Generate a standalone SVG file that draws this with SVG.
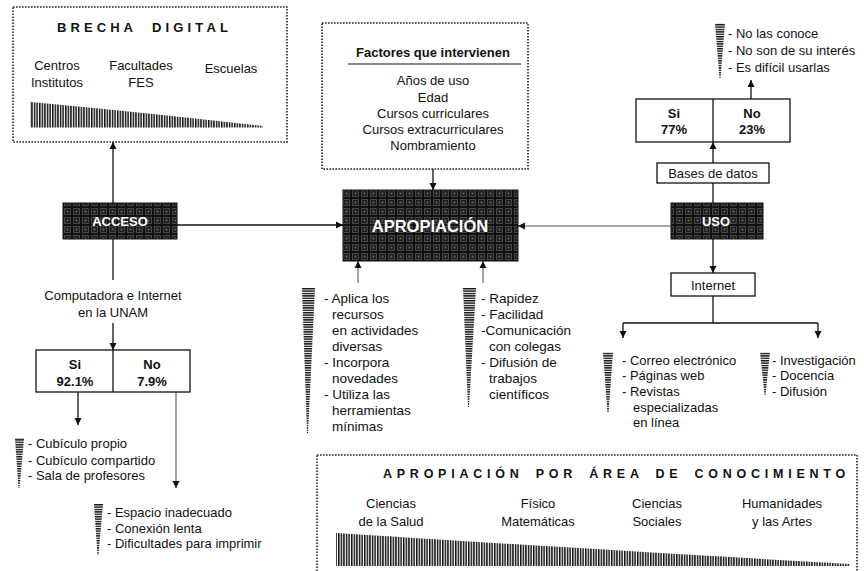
<svg xmlns="http://www.w3.org/2000/svg" width="864" height="571" viewBox="0 0 864 571">
<defs>
<style>
text{font-family:"Liberation Sans",Arial,sans-serif;fill:#111;}
.t13{font-size:13px;}
.t135{font-size:13.5px;}
.b{font-weight:bold;}
.ttl{font-size:13px;font-weight:bold;}
.wt{fill:#fff;font-weight:bold;}
.dot{fill:none;stroke:#222;stroke-width:1.6;stroke-dasharray:1.6 1.4;}
.box{fill:#fff;stroke:#111;stroke-width:1.3;}
.dark{fill:url(#mesh);stroke:#111;stroke-width:1;}
.ln{fill:none;stroke:#111;stroke-width:1.3;}
.lg{fill:none;stroke:#555;stroke-width:1.1;}
.arr{marker-end:url(#ah);}
.mid{text-anchor:middle;}
</style>
<pattern id="mesh" width="9" height="9" patternUnits="userSpaceOnUse">
<rect width="9" height="9" fill="#121212"/>
<rect x="1" y="1" width="7" height="7" fill="#464646"/>
<rect x="2" y="2" width="5" height="5" fill="#1e1e1e"/>
<rect x="3.5" y="3.5" width="2" height="2" fill="#5e5e5e"/>
</pattern>
<pattern id="vs" width="2.6" height="10" patternUnits="userSpaceOnUse">
<rect width="1.5" height="10" fill="#111"/>
</pattern>
<pattern id="hs" width="10" height="2.4" patternUnits="userSpaceOnUse">
<rect width="10" height="1.4" fill="#111"/>
</pattern>
<marker id="ah" viewBox="0 0 10 10" refX="10" refY="5" markerWidth="7" markerHeight="8" markerUnits="userSpaceOnUse" orient="auto">
<path d="M0,0 L10,5 L0,10 z" fill="#111"/>
</marker>
</defs>
<rect width="864" height="571" fill="#fff"/>

<g id="connectors">
<line class="ln arr" x1="113" y1="203" x2="113" y2="142"/>
<line class="ln" x1="113" y1="239" x2="113" y2="280"/>
<line class="ln arr" x1="113" y1="323" x2="113" y2="350"/>
<line class="ln arr" x1="78" y1="392" x2="78" y2="425"/>
<line class="lg arr" x1="176" y1="392" x2="176" y2="488"/>
<line class="ln arr" x1="177" y1="225" x2="343" y2="225"/>
<line class="ln arr" x1="433" y1="169" x2="433" y2="190"/>
<line class="lg arr" x1="671" y1="226" x2="518" y2="226"/>
<line class="lg arr" x1="358" y1="283" x2="358" y2="261"/>
<line class="lg arr" x1="483" y1="283" x2="483" y2="261"/>
<line class="ln" x1="713" y1="203" x2="713" y2="183"/>
<line class="ln arr" x1="713" y1="163" x2="713" y2="142"/>
<line class="ln arr" x1="751" y1="99" x2="751" y2="80"/>
<line class="ln arr" x1="713" y1="239" x2="713" y2="273"/>
<polyline class="ln" points="713,296 713,323"/>
<line class="ln" x1="623" y1="323" x2="818" y2="323"/>
<line class="ln arr" x1="623" y1="323" x2="623" y2="338"/>
<line class="ln arr" x1="818" y1="323" x2="818" y2="338"/>
</g>

<g id="brecha">
<rect class="dot" x="13" y="7" width="274" height="135"/>
<text class="ttl" x="57" y="32" textLength="76" lengthAdjust="spacing">BRECHA</text>
<text class="ttl" x="152" y="32" textLength="76" lengthAdjust="spacing">DIGITAL</text>
<text class="t13 mid" x="57" y="70">Centros</text>
<text class="t13 mid" x="57" y="87">Institutos</text>
<text class="t13 mid" x="141" y="70">Facultades</text>
<text class="t13 mid" x="141" y="87">FES</text>
<text class="t13 mid" x="231" y="73">Escuelas</text>
<path d="M30,102 Q120,110 263,126 L263,127.5 L30,127.5 Z" fill="url(#vs)"/>
</g>

<g id="factores">
<rect class="dot" x="322" y="23" width="206" height="146"/>
<text class="ttl mid" x="433" y="57">Factores que intervienen</text>
<line x1="348" y1="64" x2="521" y2="64" stroke="#111" stroke-width="1.2"/>
<text class="t13 mid" x="433" y="85">Años de uso</text>
<text class="t13 mid" x="433" y="102">Edad</text>
<text class="t13 mid" x="433" y="118">Cursos curriculares</text>
<text class="t13 mid" x="433" y="134">Cursos extracurriculares</text>
<text class="t13 mid" x="433" y="150">Nombramiento</text>
</g>

<g id="acceso">
<rect class="dark" x="63" y="203" width="114" height="36"/>
<text class="wt mid" x="120" y="226" font-size="13">ACCESO</text>
</g>

<g id="apropiacion">
<rect class="dark" x="343" y="190" width="175" height="71"/>
<text class="wt mid" x="430" y="232" font-size="16.5">APROPIACIÓN</text>
</g>

<g id="uso">
<rect class="dark" x="671" y="203" width="92" height="36"/>
<text class="wt mid" x="716" y="226" font-size="13">USO</text>
</g>

<g id="bases">
<rect class="box" x="657" y="163" width="112" height="20"/>
<text class="t13 mid" x="713" y="178">Bases de datos</text>
</g>

<g id="sino-bases">
<rect class="box" x="636" y="99" width="154" height="43"/>
<line class="ln" x1="713" y1="99" x2="713" y2="142"/>
<text class="t13 b mid" x="674" y="118">Si</text>
<text class="t13 b mid" x="674" y="134">77%</text>
<text class="t13 b mid" x="752" y="118">No</text>
<text class="t13 b mid" x="752" y="134">23%</text>
</g>

<g id="razones-bases">
<polygon points="715,23 725,23 720.5,78 719.5,78" fill="url(#hs)"/>
<text class="t13" x="728" y="38">- No las conoce</text>
<text class="t13" x="728" y="55">- No son de su interés</text>
<text class="t13" x="728" y="72">- Es difícil usarlas</text>
</g>

<g id="internet">
<rect class="box" x="671" y="273" width="84" height="23"/>
<text class="t13 mid" x="713" y="290">Internet</text>
</g>

<g id="internet-servicios">
<polygon points="603,352 613,352 608.5,413 607.5,413" fill="url(#hs)"/>
<text class="t13" x="622" y="365">- Correo electrónico</text>
<text class="t13" x="622" y="380">- Páginas web</text>
<text class="t13" x="622" y="396">- Revistas</text>
<text class="t13" x="633" y="412">especializadas</text>
<text class="t13" x="633" y="427">en línea</text>
</g>

<g id="internet-usos">
<polygon points="760,352 770,352 765.5,395 764.5,395" fill="url(#hs)"/>
<text class="t13" x="772" y="365">- Investigación</text>
<text class="t13" x="772" y="380">- Docencia</text>
<text class="t13" x="772" y="396">- Difusión</text>
</g>

<g id="computadora">
<text class="t13 mid" x="113" y="300">Computadora e Internet</text>
<text class="t13 mid" x="113" y="317">en la UNAM</text>
</g>

<g id="sino-acceso">
<rect class="box" x="36" y="350" width="154" height="42"/>
<line class="ln" x1="113" y1="350" x2="113" y2="392"/>
<text class="t13 b mid" x="75" y="369">Si</text>
<text class="t13 b mid" x="75" y="386">92.1%</text>
<text class="t13 b mid" x="152" y="369">No</text>
<text class="t13 b mid" x="152" y="386">7.9%</text>
</g>

<g id="lugares">
<polygon points="15,438 24,438 19.5,488 18.5,488" fill="url(#hs)"/>
<text class="t13" x="28" y="448">- Cubículo propio</text>
<text class="t13" x="28" y="465">- Cubículo compartido</text>
<text class="t13" x="28" y="480">- Sala de profesores</text>
</g>

<g id="problemas">
<polygon points="94,504 103,504 98.5,555 97.5,555" fill="url(#hs)"/>
<text class="t13" x="107" y="517">- Espacio inadecuado</text>
<text class="t13" x="107" y="533">- Conexión lenta</text>
<text class="t13" x="107" y="548">- Dificultades para imprimir</text>
</g>

<g id="apropiacion-usos">
<polygon points="302,288 315,288 308,433 307,433" fill="url(#hs)"/>
<text class="t135" x="324" y="303">- Aplica los</text>
<text class="t135" x="332" y="319">recursos</text>
<text class="t135" x="332" y="335">en actividades</text>
<text class="t135" x="332" y="351">diversas</text>
<text class="t135" x="324" y="367">- Incorpora</text>
<text class="t135" x="332" y="383">novedades</text>
<text class="t135" x="324" y="399">- Utiliza las</text>
<text class="t135" x="332" y="415">herramientas</text>
<text class="t135" x="332" y="431">mínimas</text>
</g>

<g id="apropiacion-ventajas">
<polygon points="463,288 476,288 469,407 468,407" fill="url(#hs)"/>
<text class="t135" x="481" y="303">- Rapidez</text>
<text class="t135" x="481" y="319">- Facilidad</text>
<text class="t135" x="481" y="335">-Comunicación</text>
<text class="t135" x="489" y="351">con colegas</text>
<text class="t135" x="481" y="367">- Difusión de</text>
<text class="t135" x="489" y="383">trabajos</text>
<text class="t135" x="489" y="399">científicos</text>
</g>

<g id="area-conocimiento">
<rect class="dot" x="317" y="455" width="540" height="130"/>
<text x="383" y="478" font-size="12.5" font-weight="bold" letter-spacing="4.75" word-spacing="4">APROPIACIÓN POR ÁREA DE CONOCIMIENTO</text>
<text class="t13 mid" x="391" y="508">Ciencias</text>
<text class="t13 mid" x="391" y="526">de la Salud</text>
<text class="t13 mid" x="538" y="508">Físico</text>
<text class="t13 mid" x="538" y="526">Matemáticas</text>
<text class="t13 mid" x="657" y="508">Ciencias</text>
<text class="t13 mid" x="657" y="526">Sociales</text>
<text class="t13 mid" x="782" y="508">Humanidades</text>
<text class="t13 mid" x="782" y="526">y las Artes</text>
<path d="M336,533 Q520,545 850,564 L850,566 L336,566 Z" fill="url(#vs)"/>
</g>
</svg>
